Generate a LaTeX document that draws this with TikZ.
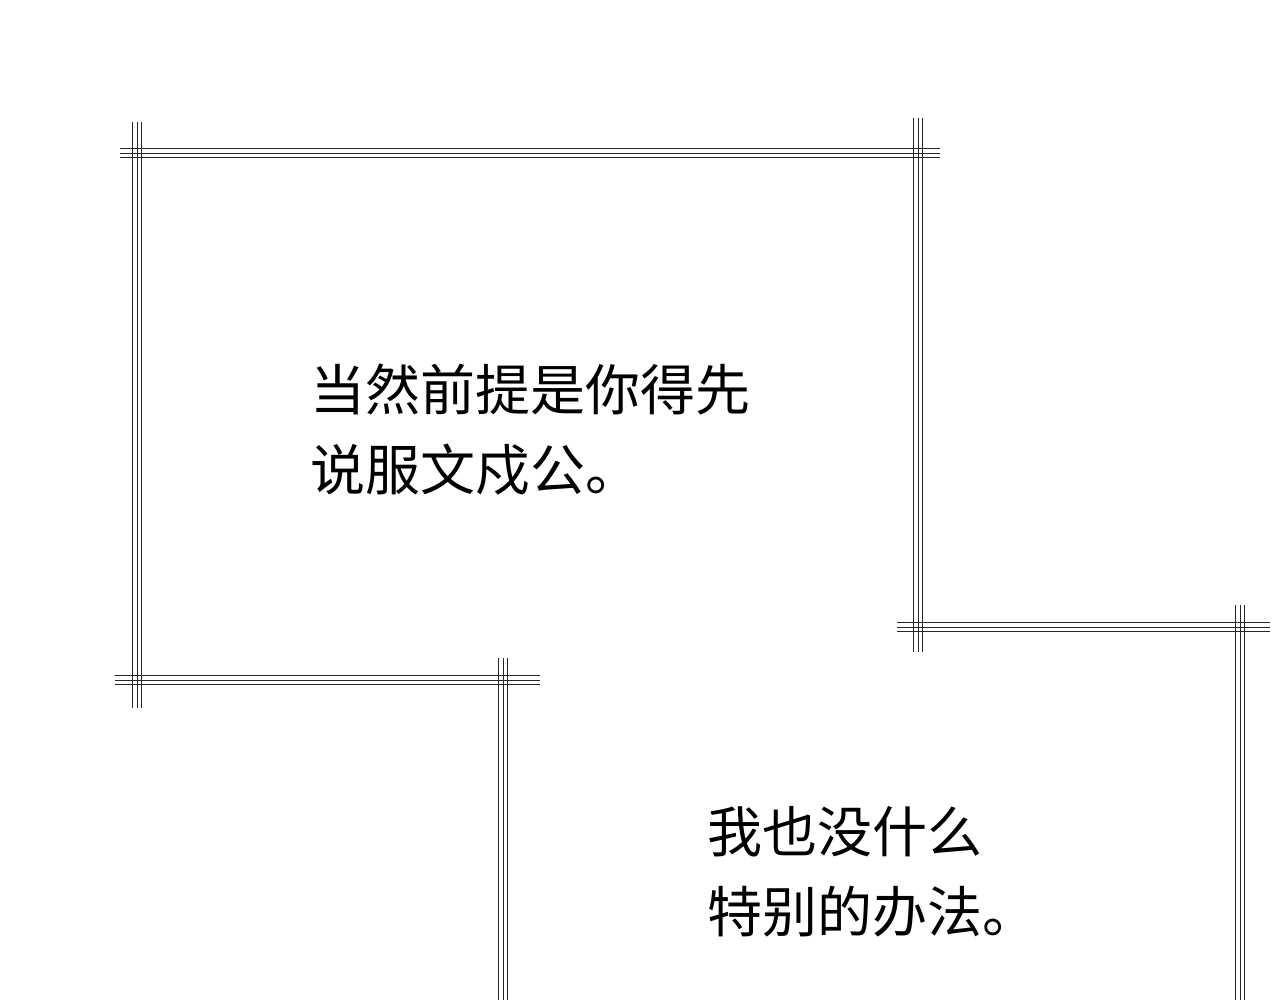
\documentclass[tikz,border=0pt]{standalone}
\usepackage{fontspec}
\newfontfamily\cjk{Noto Sans CJK SC}
\begin{document}
\begin{tikzpicture}[x=1pt,y=-1pt,
  fl/.style={line width=0.9pt,black!85},
  txt/.style={anchor=west,font=\cjk\fontsize{55}{80}\selectfont,align=left,inner sep=0pt}]
\useasboundingbox[fill=white] (0,0) rectangle (1280,1000);
\newcommand\hl[3]{\foreach \d in {-4.5,0,4.5}{\draw[fl] (#1,#3+\d) -- (#2,#3+\d);}}
\newcommand\vl[3]{\foreach \d in {-4.5,0,4.5}{\draw[fl] (#3+\d,#1) -- (#3+\d,#2);}}
% frame 1
\hl{120}{940}{153}
\vl{122}{708}{137}
\vl{118}{652}{918}
\hl{115}{540}{680}
% frame 2
\vl{658}{1000}{503}
% frame 3
\hl{897}{1270}{627}
\vl{605}{1000}{1240}
\node[txt] (t1) at (310,430) {当然前提是你得先\\说服文戍公。};
\node[txt] (t2) at (707,872) {我也没什么\\特别的办法。};
\end{tikzpicture}
\end{document}
